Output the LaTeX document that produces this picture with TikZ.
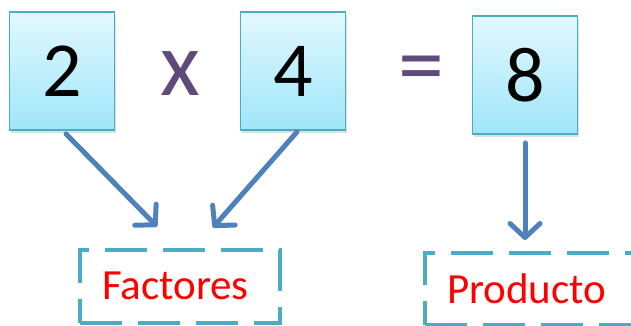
\documentclass[tikz,border=0pt]{standalone}
\usepackage{fontspec}
\setmainfont{Carlito}
\usepackage{tikz}
\usetikzlibrary{arrows.meta, positioning, shadows}
\definecolor{boxline}{HTML}{4BACC6}
\definecolor{boxtop}{HTML}{E2F8FE}
\definecolor{boxbot}{HTML}{9FE6FA}
\definecolor{arrowblue}{HTML}{4F81BD}
\definecolor{signpurple}{HTML}{5F4B7B}
\tikzstyle{numbox} = [rectangle, minimum width=105pt, minimum height=118pt, inner sep=0pt, text centered, draw=boxline, line width=1.8pt, top color=boxtop, bottom color=boxbot, drop shadow={shadow xshift=1.5pt, shadow yshift=-3pt, opacity=0.25}, font=\fontsize{78}{80}\selectfont]
\tikzstyle{sign} = [text=signpurple, font=\fontsize{92}{92}\selectfont, inner sep=0pt]
\tikzstyle{dashbox} = [rectangle, draw=boxline, line width=4pt, dash pattern=on 42pt off 16pt, text=red, font=\fontsize{43}{46}\selectfont, inner xsep=22pt, align=left]
\tikzstyle{arrow} = [arrowblue, line width=5pt, line cap=round, -{Straight Barb[length=14pt, width=30pt, round]}]

\begin{document}
\begin{tikzpicture}[x=1pt, y=-1pt]
    \useasboundingbox (0,0) rectangle (631,325);
    \node (f1) [numbox] at (62,71) {2};
    \node (f2) [numbox] at (293,71) {4};
    \node (prod) [numbox] at (525,75) {8};
    \node (times) [sign] at (180,74) {x};
    \node (eq) [sign] at (421,76) {=};

    \node (factores) [dashbox, minimum width=200pt, minimum height=73pt, text width=156pt] at (180,286) {Factores};
    \node (producto) [dashbox, minimum width=230pt, minimum height=72pt, text width=186pt] at (540,289) {Producto};

    \coordinate (tip1) at ([xshift=-23pt, yshift=21pt]factores.north);
    \coordinate (tip2) at ([xshift=33pt, yshift=20pt]factores.north);
    \coordinate (tip3) at ([yshift=11pt]producto.north -| prod.south);

    \draw [arrow] ([xshift=4pt, yshift=-3pt]f1.south) -- (tip1);
    \draw [arrow] ([xshift=4pt, yshift=-1pt]f2.south) -- (tip2);
    \draw [arrow] ([yshift=-8pt]prod.south) -- (tip3);
\end{tikzpicture}
\end{document}
